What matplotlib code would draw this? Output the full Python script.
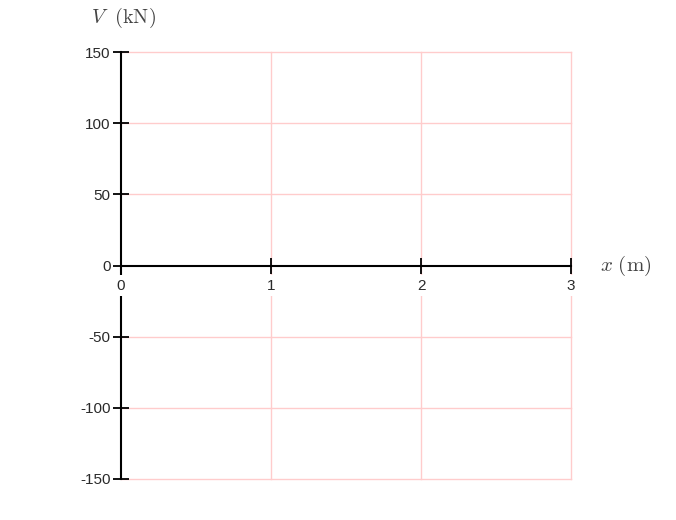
import matplotlib
matplotlib.use("Agg")
import matplotlib.pyplot as plt

x_ticks = [0, 1, 2, 3]
x_tick_labels = ["0", "1", "2", "3"]
y_ticks = [-150, -100, -50, 0, 50, 100, 150]
y_tick_labels = ["-150", "-100", "-50", "0", "50", "100", "150"]
x_label = r"$x\ (\mathrm{m})$"
y_label = r"$V\ \ (\mathrm{kN})$"

plt.rcParams["mathtext.fontset"] = "cm"
plt.rcParams["font.family"] = ["Liberation Sans", "DejaVu Sans"]

W, H = 676, 520
fig = plt.figure(figsize=(W / 100, H / 100), dpi=100)
ax = fig.add_axes([121 / W, 1 - 479 / H, (571 - 121) / W, (479 - 52) / H])
ax.set_xlim(x_ticks[0], x_ticks[-1])
ax.set_ylim(y_ticks[0], y_ticks[-1])

grid_color = "#ffcccc"
for xv in x_ticks[1:]:
    ax.axvline(xv, color=grid_color, lw=1, zorder=0, clip_on=False)
for yv in y_ticks:
    if yv != 0:
        ax.axhline(yv, color=grid_color, lw=1, zorder=0, clip_on=False)

for s in ["top", "right"]:
    ax.spines[s].set_visible(False)
ax.spines["bottom"].set_position(("data", 0))
ax.spines["left"].set_position(("data", 0))
for s in ["bottom", "left"]:
    ax.spines[s].set_color("black")
    ax.spines[s].set_linewidth(1.5)
    ax.spines[s].set_zorder(1)

ax.set_xticks(x_ticks)
ax.set_xticklabels(x_tick_labels)
ax.set_yticks(y_ticks)
ax.set_yticklabels(y_tick_labels)
ax.tick_params(axis="both", direction="inout", length=11, width=1.3, color="black",
               labelsize=11, labelcolor="#2a2a2a")
ax.tick_params(axis="x", pad=4)
ax.tick_params(axis="y", pad=2)
ax.xaxis.set_zorder(3)
for lbl in ax.get_xticklabels():
    lbl.set_bbox(dict(facecolor="white", edgecolor="none", pad=2.5))

fig.text(123 / W, 1 - 18 / H, y_label, ha="center", va="center", fontsize=14.5,
         color="#444444")
fig.text(626 / W, 1 - 266 / H, x_label, ha="center", va="center", fontsize=15,
         color="#444444")

fig.savefig("out.png", dpi=100, facecolor="white")
